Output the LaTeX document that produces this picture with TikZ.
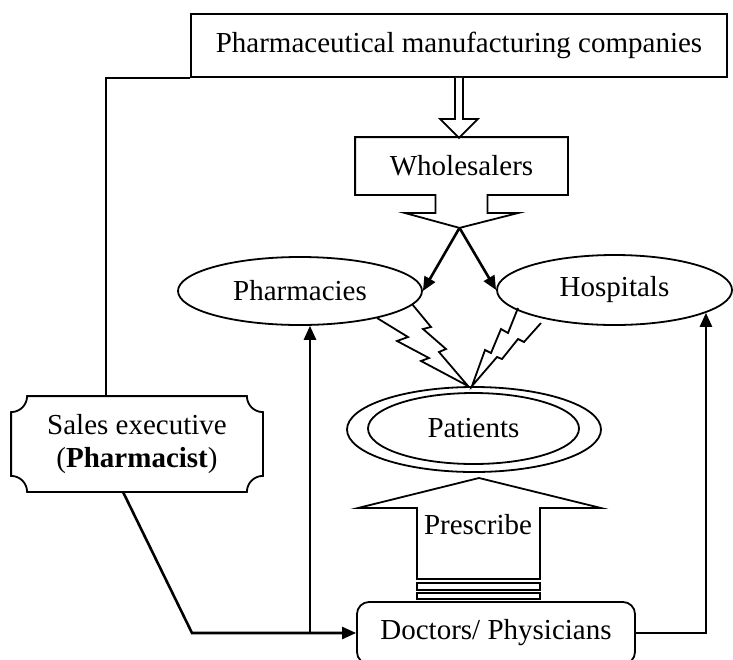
\documentclass[tikz,border=0pt]{standalone}
\usepackage{fontspec}
\setmainfont{Liberation Serif}
\usetikzlibrary{arrows.meta,calc,shapes.geometric}
\begin{document}
\begin{tikzpicture}[x=0.5pt,y=-0.5pt,line width=0.9pt,
  font=\fontsize{14.5}{16.5}\selectfont,
  box/.style={draw,rectangle,inner sep=0pt},
  oval/.style={draw,ellipse,inner sep=0pt},
  arr/.style={>={Triangle[length=7pt,width=6pt]},->,line width=1.3pt}]
\useasboundingbox (0,0) rectangle (733,659);

\node[box,minimum width=268pt,minimum height=31.5pt] (comp) at (459,45.5) {Pharmaceutical manufacturing companies};
\node[inner sep=0pt,minimum width=105.5pt,minimum height=28pt] (whole) at (461.5,166) {Wholesalers};
\node[oval,minimum width=122pt,minimum height=34pt] (pharm) at (300,291) {Pharmacies};
\node[oval,minimum width=117.5pt,minimum height=35pt] (hosp) at (614.5,290) {Hospitals};
\node[oval,minimum width=127pt,minimum height=42.5pt] (pat) at (474,429.5) {};
\node[oval,minimum width=105.5pt,minimum height=35.5pt] (patin) at (473.5,428.5) {Patients};
\node[inner sep=0pt,minimum width=125pt,minimum height=47pt,align=center] (sales) at (137,444) {Sales executive\\(\textbf{Pharmacist})};
\node[box,rounded corners=6pt,minimum width=139pt,minimum height=31pt] (doc) at (496,633) {Doctors/ Physicians};
\node (presc) at (478,525) {Prescribe};

% hollow arrow down to the wholesalers
\draw[fill=white] ($(comp.south)+(-4,0)$) -- ($(comp.south)+(-4,41)$) -- ($(comp.south)+(-19,41)$)
  -- ($(comp.south)+(0,60)$) -- ($(comp.south)+(19,41)$) -- ($(comp.south)+(4,41)$) -- ($(comp.south)+(4,0)$);

% wholesalers box with its pointer
\draw (whole.north west) -- (whole.north east) -- (whole.south east)
  -- ($(whole.south)+(26,0)$) -- ++(0,18) -- ++(31,0) -- ($(whole.south)+(-2,33)$) coordinate (wtip)
  -- ($(whole.south)+(-57,18)$) -- ++(31,0) -- ++(0,-18) -- (whole.south west) -- cycle;
\draw[arr] (wtip) -- (pharm.east);
\draw[arr] (wtip) -- (hosp.west);

% sales executive plaque
\draw ($(sales.north west)+(16,0)$) -- ($(sales.north east)+(-16,0)$)
  arc[start angle=180,end angle=90,radius=16] -- ($(sales.south east)+(0,-16)$)
  arc[start angle=270,end angle=180,radius=16] -- ($(sales.south west)+(16,0)$)
  arc[start angle=360,end angle=270,radius=16] -- ($(sales.north west)+(0,16)$)
  arc[start angle=90,end angle=0,radius=16] -- cycle;
\draw (comp.south west) -| ([xshift=-15.5pt]sales.north);

% lightning bolts
\draw (377,318) -- (408,337) -- (397,341) -- (429,358) -- (421,361) -- (468,386)
  -- (439,352) -- (446,349) -- (423,329) -- (431,327) -- (412,304);
\draw (518,308) -- (508,333) -- (501,329) -- (491,353) -- (485,350) -- (472,386)
  -- (497,357) -- (502,359) -- (518,339) -- (524,342) -- (541,323);

% prescribe arrow
\draw (479,478) -- (601,508) -- (540,508) -- (540,579) -- (417,579) -- (417,508) -- (358,508) -- cycle;
\draw (417,583) rectangle (540,590);
\draw (417,593) rectangle (540,599);

% lower connectors
\coordinate (turn) at (192,633);
\draw[arr] ([xshift=-7pt]sales.south) -- (turn) -- (doc.west);
\draw[arr] (pharm.-74 |- doc.west) -- (pharm.-74);
\draw[arr] (doc.east) -| (hosp.-14);
\end{tikzpicture}
\end{document}
